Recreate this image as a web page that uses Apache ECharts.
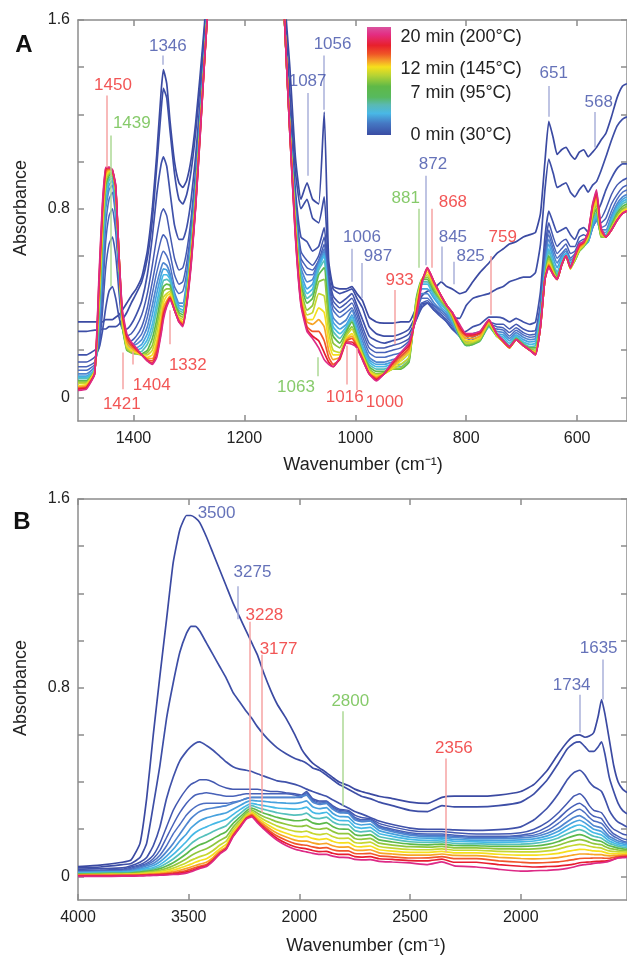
<!DOCTYPE html>
<html>
<head>
<meta charset="utf-8">
<script src="https://cdn.jsdelivr.net/npm/echarts@6/dist/echarts.min.js"></script>
<style>
html,body{margin:0;padding:0;background:#fff}
#chart{width:627px;height:957px}
</style>
</head>
<body>
<div id="chart"></div>
<script>
// spectra recorded while heating, minutes from start
const times = [0, 0.5, 1, 1.5, 2, 2.5, 3, 4, 5, 6, 7, 8.5, 10, 12, 14, 16, 18, 20];

// panel A, 1500-510 cm-1. one row per wavenumber, one column per spectrum
const wnA = [1500,1485,1470,1462,1456,1450,1444,1438,1432,1426,1420,1412,1404,1395,1385,1375,1366,1358,1350,1346,1340,1334,1326,1318,1311,1304,1296,1288,1280,1272,1264,1255,1240,
  1150,1128,1118,1108,1098,1087,1077,1066,1056,1048,1040,1028,1016,1006,997,987,975,962,948,933,918,903,890,880,870,858,845,835,825,812,800,788,775,759,745,733,722,710,697,685,675,666,658,651,643,636,628,620,612,604,596,588,580,572,565,557,548,538,528,518,510];
const absA = [
  [.32,.28,.18,.15,.13,.115,.10,.09,.085,.08,.07,.065,.06,.05,.045,.04,.035,.03],
  [.32,.28,.18,.15,.13,.115,.10,.09,.085,.08,.07,.065,.06,.055,.05,.045,.04,.035],
  [.32,.285,.20,.17,.15,.14,.13,.12,.12,.115,.11,.11,.11,.11,.105,.10,.10,.10],
  [.32,.285,.21,.21,.23,.26,.30,.32,.34,.36,.38,.40,.42,.44,.46,.48,.50,.52],
  [.32,.29,.28,.36,.42,.48,.55,.58,.61,.64,.67,.70,.72,.74,.76,.78,.80,.82],
  [.33,.29,.38,.55,.66,.73,.80,.83,.86,.88,.90,.92,.93,.94,.95,.96,.97,.975],
  [.33,.30,.45,.65,.77,.84,.88,.90,.92,.93,.94,.95,.955,.96,.965,.97,.975,.975],
  [.33,.30,.47,.68,.80,.87,.90,.92,.93,.94,.95,.955,.96,.96,.96,.96,.965,.965],
  [.34,.30,.42,.60,.70,.76,.79,.81,.83,.85,.86,.87,.88,.885,.89,.89,.895,.90],
  [.35,.31,.34,.44,.50,.53,.55,.56,.57,.58,.58,.59,.59,.59,.60,.60,.60,.60],
  [.37,.33,.29,.30,.30,.30,.30,.30,.30,.30,.30,.31,.32,.33,.34,.35,.36,.37],
  [.40,.36,.29,.26,.24,.23,.24,.23,.22,.21,.20,.205,.21,.22,.235,.25,.26,.27],
  [.43,.40,.31,.27,.24,.22,.22,.21,.20,.195,.19,.19,.195,.20,.21,.22,.23,.235],
  [.46,.44,.35,.30,.26,.24,.225,.21,.20,.19,.185,.185,.19,.19,.195,.20,.205,.21],
  [.51,.49,.41,.35,.30,.27,.245,.225,.21,.195,.185,.18,.18,.18,.18,.18,.18,.18],
  [.62,.59,.52,.44,.38,.34,.30,.27,.245,.225,.20,.19,.18,.17,.165,.16,.155,.155],
  [.80,.75,.68,.56,.49,.44,.39,.35,.31,.28,.25,.22,.20,.18,.165,.155,.145,.14],
  [1.03,.98,.86,.68,.59,.53,.48,.44,.40,.37,.33,.30,.27,.24,.22,.20,.18,.17],
  [1.30,1.22,.99,.78,.67,.60,.55,.52,.49,.46,.43,.40,.37,.34,.32,.30,.28,.27],
  [1.39,1.31,1.02,.80,.69,.62,.57,.545,.52,.495,.47,.45,.425,.40,.38,.36,.345,.33],
  [1.33,1.27,.98,.77,.67,.60,.56,.54,.52,.50,.48,.46,.44,.43,.41,.40,.39,.385],
  [1.17,1.13,.87,.69,.61,.56,.525,.51,.50,.49,.475,.46,.45,.44,.43,.425,.42,.415],
  [1.00,.95,.73,.59,.52,.47,.445,.43,.42,.41,.40,.39,.38,.375,.37,.37,.37,.37],
  [.91,.84,.67,.54,.48,.44,.40,.39,.38,.37,.36,.35,.34,.335,.33,.325,.32,.32],
  [.89,.82,.67,.55,.49,.45,.40,.385,.37,.36,.35,.34,.33,.32,.315,.31,.305,.30],
  [.92,.86,.72,.62,.57,.53,.49,.475,.46,.45,.44,.43,.42,.41,.405,.40,.395,.39],
  [1.01,.96,.84,.76,.72,.69,.66,.65,.64,.63,.62,.61,.60,.59,.58,.575,.57,.56],
  [1.16,1.12,1.02,.96,.93,.91,.89,.88,.87,.86,.85,.84,.83,.82,.815,.81,.805,.80],
  [1.36,1.32,1.25,1.22,1.20,1.18,1.17,1.16,1.15,1.14,1.14,1.13,1.12,1.12,1.11,1.11,1.10,1.10],
  [1.58,1.55,1.50,1.48,1.47,1.46,1.45,1.45,1.44,1.44,1.43,1.43,1.43,1.42,1.42,1.42,1.42,1.42],
  [1.85,1.82,1.80,1.78,1.77,1.76,1.75,1.75,1.75,1.74,1.74,1.74,1.73,1.73,1.73,1.72,1.72,1.72],
  [2.2,2.2,2.2,2.2,2.2,2.2,2.2,2.2,2.2,2.2,2.2,2.2,2.2,2.2,2.2,2.2,2.2,2.2],
  [3,3,3,3,3,3,3,3,3,3,3,3,3,3,3,3,3,3],
  [3,3,3,3,3,3,3,3,3,3,3,3,3,3,3,3,3,3],
  [1.72,1.68,1.65,1.64,1.63,1.62,1.62,1.62,1.62,1.62,1.62,1.62,1.62,1.62,1.62,1.62,1.62,1.62],
  [1.40,1.30,1.22,1.18,1.16,1.15,1.15,1.15,1.14,1.14,1.14,1.14,1.13,1.13,1.13,1.12,1.12,1.12],
  [1.02,.96,.88,.84,.82,.80,.79,.78,.77,.76,.75,.74,.73,.72,.71,.70,.69,.68],
  [.84,.80,.68,.62,.59,.57,.55,.53,.51,.50,.48,.46,.44,.43,.42,.41,.40,.39],
  [.91,.84,.66,.58,.55,.52,.49,.46,.44,.42,.40,.37,.35,.33,.32,.30,.29,.28],
  [.84,.76,.62,.56,.54,.52,.50,.48,.46,.44,.42,.39,.36,.33,.31,.28,.26,.25],
  [.82,.74,.64,.60,.58,.58,.57,.56,.55,.54,.52,.49,.44,.38,.33,.28,.24,.21],
  [1.21,.85,.72,.68,.65,.63,.62,.61,.60,.58,.55,.50,.43,.36,.30,.24,.19,.16],
  [.58,.55,.52,.50,.48,.46,.44,.42,.40,.38,.35,.32,.28,.24,.20,.17,.15,.14],
  [.47,.46,.43,.41,.39,.37,.34,.32,.30,.28,.26,.23,.20,.18,.16,.14,.13,.13],
  [.46,.44,.40,.38,.36,.34,.31,.29,.27,.25,.23,.21,.19,.18,.17,.16,.165,.17],
  [.46,.45,.42,.40,.38,.36,.33,.31,.30,.29,.28,.27,.26,.25,.245,.24,.235,.23],
  [.47,.46,.44,.42,.40,.38,.37,.35,.34,.33,.32,.30,.29,.27,.26,.25,.235,.225],
  [.44,.42,.39,.37,.35,.33,.31,.29,.28,.27,.26,.25,.24,.23,.22,.215,.21,.21],
  [.41,.38,.33,.30,.28,.26,.24,.22,.21,.20,.19,.185,.18,.175,.17,.165,.16,.16],
  [.34,.30,.26,.23,.21,.19,.17,.16,.15,.14,.13,.12,.115,.11,.105,.10,.10,.10],
  [.32,.27,.24,.21,.19,.17,.15,.14,.13,.12,.11,.10,.095,.09,.085,.08,.075,.07],
  [.315,.26,.23,.21,.19,.17,.15,.14,.13,.12,.11,.105,.10,.10,.10,.10,.10,.10],
  [.315,.26,.24,.22,.20,.18,.16,.15,.14,.13,.12,.12,.12,.125,.13,.14,.145,.15],
  [.32,.27,.25,.23,.21,.19,.17,.155,.14,.13,.12,.125,.14,.155,.165,.175,.185,.19],
  [.32,.29,.27,.25,.24,.23,.21,.19,.17,.16,.15,.16,.17,.19,.20,.21,.22,.23],
  [.38,.35,.33,.33,.34,.35,.37,.39,.40,.41,.42,.41,.40,.38,.37,.36,.35,.34],
  [.43,.40,.38,.39,.40,.42,.44,.46,.48,.49,.50,.50,.50,.50,.49,.49,.49,.48],
  [.45,.40,.40,.40,.41,.42,.44,.46,.48,.49,.50,.51,.52,.53,.54,.545,.55,.55],
  [.46,.39,.37,.37,.38,.39,.40,.42,.43,.44,.45,.46,.47,.48,.48,.49,.49,.49],
  [.49,.37,.35,.34,.35,.36,.37,.38,.39,.40,.41,.41,.42,.42,.43,.43,.43,.43],
  [.47,.35,.32,.32,.33,.34,.35,.36,.37,.37,.38,.38,.39,.39,.39,.39,.39,.39],
  [.46,.34,.29,.29,.30,.31,.31,.32,.33,.33,.34,.34,.35,.35,.35,.36,.36,.36],
  [.44,.335,.27,.26,.26,.26,.26,.26,.26,.26,.26,.27,.27,.28,.28,.29,.30,.31],
  [.45,.39,.28,.25,.24,.235,.23,.225,.22,.22,.22,.225,.23,.24,.25,.26,.265,.27],
  [.49,.42,.30,.27,.255,.245,.24,.235,.23,.225,.225,.23,.235,.24,.25,.26,.265,.27],
  [.53,.43,.31,.28,.27,.26,.255,.25,.245,.24,.24,.245,.25,.255,.26,.27,.275,.28],
  [.57,.44,.34,.32,.31,.30,.30,.30,.30,.30,.305,.31,.315,.32,.32,.325,.33,.33],
  [.61,.46,.34,.31,.30,.29,.28,.27,.265,.26,.26,.26,.26,.265,.27,.27,.27,.27],
  [.63,.47,.335,.31,.295,.285,.275,.265,.255,.245,.24,.235,.235,.235,.235,.235,.24,.24],
  [.65,.49,.32,.29,.275,.26,.25,.24,.23,.22,.215,.21,.21,.21,.21,.21,.215,.215],
  [.66,.50,.335,.31,.295,.285,.275,.265,.26,.255,.25,.245,.245,.245,.245,.245,.245,.245],
  [.68,.51,.32,.29,.275,.265,.255,.245,.235,.23,.225,.22,.22,.22,.22,.22,.22,.22],
  [.69,.51,.31,.28,.265,.255,.245,.235,.225,.215,.21,.205,.20,.20,.20,.20,.20,.20],
  [.70,.53,.32,.285,.27,.26,.25,.24,.23,.22,.21,.20,.195,.19,.185,.185,.18,.18],
  [.78,.65,.45,.40,.38,.37,.36,.35,.34,.33,.32,.31,.30,.30,.30,.30,.30,.30],
  [1.0,.88,.68,.63,.60,.58,.56,.54,.53,.52,.51,.50,.50,.50,.50,.50,.50,.50],
  [1.17,1.01,.79,.74,.71,.69,.67,.65,.63,.62,.60,.59,.58,.57,.565,.56,.555,.55],
  [1.10,.95,.74,.68,.65,.63,.61,.59,.57,.56,.55,.54,.53,.53,.525,.52,.52,.52],
  [1.03,.89,.70,.64,.61,.59,.57,.55,.53,.52,.51,.50,.50,.50,.50,.50,.50,.50],
  [1.05,.90,.71,.66,.63,.61,.60,.59,.58,.57,.56,.56,.56,.56,.56,.56,.56,.56],
  [1.06,.91,.72,.67,.65,.63,.62,.61,.61,.60,.60,.60,.60,.60,.60,.60,.60,.60],
  [1.03,.87,.69,.64,.61,.59,.58,.57,.56,.555,.55,.545,.545,.545,.55,.55,.55,.55],
  [1.01,.85,.67,.64,.62,.61,.60,.59,.585,.58,.58,.58,.585,.59,.59,.60,.60,.60],
  [1.04,.88,.71,.68,.66,.65,.64,.63,.625,.62,.62,.62,.625,.63,.635,.64,.645,.65],
  [1.05,.90,.72,.69,.67,.66,.65,.645,.64,.64,.64,.64,.645,.65,.65,.655,.66,.66],
  [1.02,.87,.70,.68,.67,.66,.66,.66,.66,.665,.67,.675,.68,.685,.69,.695,.70,.70],
  [1.04,.90,.75,.73,.72,.72,.72,.73,.74,.75,.76,.77,.78,.79,.80,.81,.815,.82],
  [1.06,.915,.78,.76,.75,.75,.75,.76,.77,.78,.80,.82,.83,.84,.85,.86,.87,.88],
  [1.09,.96,.82,.76,.74,.72,.71,.70,.69,.69,.68,.68,.69,.70,.70,.71,.72,.72],
  [1.12,1.02,.88,.80,.76,.73,.71,.70,.69,.685,.68,.68,.68,.68,.68,.68,.68,.68],
  [1.19,1.09,.93,.86,.82,.79,.77,.76,.75,.74,.73,.72,.72,.71,.71,.71,.71,.71],
  [1.27,1.15,.97,.90,.86,.84,.82,.81,.80,.79,.78,.77,.76,.76,.75,.75,.75,.75],
  [1.32,1.18,.99,.92,.89,.87,.85,.84,.83,.82,.81,.80,.79,.79,.78,.78,.78,.78],
  [1.33,1.19,.99,.93,.90,.88,.86,.85,.84,.83,.82,.81,.80,.80,.79,.79,.79,.79]
];

// panel B, 4000-1520 cm-1
const wnB = [4000,3900,3800,3760,3720,3690,3660,3630,3600,3570,3540,3510,3490,3470,3450,3420,3390,3360,3330,3300,3270,3240,3215,3190,3160,3130,3100,3060,3020,2990,2968,2940,2910,2878,2850,2820,2779,2750,2720,2680,2640,2580,2500,2420,2356,2300,2200,2100,2000,1940,1880,1830,1790,1760,1734,1710,1690,1670,1650,1635,1620,1600,1580,1560,1540,1520];
const absB = [
  [.042,.036,.03,.025,.022,.02,.018,.016,.014,.012,.01,.008,.007,.006,.005,.004,.002,0],
  [.048,.04,.033,.027,.024,.022,.02,.018,.016,.014,.012,.01,.008,.007,.006,.004,.002,0],
  [.06,.05,.036,.03,.026,.024,.022,.02,.018,.015,.013,.011,.009,.008,.006,.005,.003,.001],
  [.07,.055,.045,.04,.035,.03,.025,.022,.02,.017,.014,.012,.01,.009,.007,.005,.003,.001],
  [.14,.08,.06,.05,.045,.04,.035,.03,.026,.022,.018,.015,.012,.01,.008,.006,.004,.002],
  [.33,.14,.08,.065,.055,.05,.045,.038,.032,.027,.022,.018,.015,.012,.01,.007,.005,.003],
  [.60,.30,.13,.09,.075,.065,.055,.046,.038,.032,.026,.021,.017,.014,.011,.008,.006,.004],
  [.85,.47,.21,.14,.11,.09,.075,.062,.05,.041,.033,.026,.021,.017,.013,.01,.007,.005],
  [1.09,.67,.33,.21,.165,.13,.105,.086,.07,.056,.044,.034,.027,.021,.016,.012,.009,.006],
  [1.33,.82,.42,.28,.22,.18,.14,.115,.093,.074,.058,.045,.035,.027,.02,.015,.011,.008],
  [1.47,.95,.49,.33,.27,.22,.18,.15,.12,.096,.076,.059,.046,.035,.026,.019,.014,.01],
  [1.53,1.03,.53,.37,.31,.26,.22,.18,.148,.12,.096,.075,.058,.045,.034,.025,.019,.014],
  [1.53,1.06,.55,.39,.33,.28,.245,.205,.17,.138,.112,.088,.068,.052,.04,.031,.024,.02],
  [1.52,1.06,.565,.40,.345,.295,.262,.222,.186,.152,.124,.098,.076,.06,.046,.037,.03,.027],
  [1.50,1.04,.57,.41,.35,.305,.275,.236,.198,.164,.134,.107,.084,.067,.052,.043,.037,.034],
  [1.44,.99,.555,.41,.355,.31,.285,.248,.21,.176,.145,.117,.093,.075,.06,.05,.045,.042],
  [1.37,.94,.535,.40,.35,.31,.29,.256,.222,.19,.16,.133,.11,.093,.08,.072,.068,.065],
  [1.30,.89,.51,.385,.345,.31,.295,.263,.232,.203,.176,.152,.132,.117,.107,.10,.097,.095],
  [1.23,.84,.485,.375,.34,.31,.30,.27,.242,.215,.19,.168,.15,.136,.126,.12,.117,.115],
  [1.16,.78,.465,.37,.34,.315,.31,.285,.262,.242,.224,.208,.195,.185,.178,.173,.17,.168],
  [1.10,.74,.455,.37,.345,.32,.32,.30,.282,.265,.25,.238,.228,.22,.214,.21,.207,.205],
  [1.04,.70,.45,.37,.35,.33,.33,.315,.30,.288,.277,.268,.26,.254,.25,.247,.245,.243],
  [.99,.67,.445,.37,.35,.335,.335,.322,.31,.30,.29,.282,.275,.269,.264,.26,.256,.252],
  [.94,.635,.435,.37,.35,.335,.335,.32,.305,.292,.28,.268,.258,.25,.243,.237,.232,.228],
  [.86,.60,.425,.365,.35,.335,.335,.318,.30,.284,.268,.253,.24,.229,.22,.212,.205,.20],
  [.79,.57,.415,.36,.35,.335,.335,.315,.295,.277,.259,.242,.226,.212,.20,.19,.182,.175],
  [.73,.545,.405,.36,.35,.335,.335,.313,.29,.27,.25,.231,.213,.197,.183,.171,.161,.153],
  [.67,.52,.40,.355,.35,.335,.335,.311,.287,.264,.242,.221,.201,.183,.167,.153,.141,.131],
  [.60,.50,.39,.35,.345,.335,.335,.31,.285,.26,.236,.213,.191,.171,.154,.139,.126,.115],
  [.54,.49,.38,.345,.34,.335,.34,.314,.288,.262,.237,.212,.189,.168,.15,.134,.12,.108],
  [.51,.48,.37,.36,.355,.35,.345,.32,.294,.268,.242,.216,.192,.17,.15,.132,.117,.104],
  [.48,.46,.36,.33,.325,.32,.315,.295,.272,.25,.227,.204,.182,.161,.142,.125,.11,.098],
  [.46,.45,.35,.32,.315,.31,.305,.287,.266,.245,.222,.20,.177,.156,.137,.12,.105,.093],
  [.44,.43,.34,.32,.318,.315,.31,.292,.272,.251,.228,.205,.182,.16,.14,.122,.106,.093],
  [.42,.41,.325,.30,.295,.29,.285,.268,.25,.232,.212,.191,.169,.149,.13,.113,.098,.086],
  [.40,.39,.31,.285,.28,.275,.27,.254,.237,.22,.201,.181,.161,.142,.124,.108,.093,.081],
  [.385,.37,.29,.28,.275,.27,.268,.252,.236,.219,.20,.181,.162,.143,.125,.108,.093,.08],
  [.37,.355,.275,.26,.25,.245,.24,.226,.211,.195,.178,.161,.144,.128,.112,.097,.084,.072],
  [.36,.34,.265,.25,.24,.235,.232,.218,.204,.189,.173,.157,.141,.125,.11,.096,.082,.07],
  [.35,.33,.25,.245,.24,.235,.235,.222,.208,.193,.177,.161,.145,.129,.113,.098,.084,.071],
  [.34,.315,.235,.225,.215,.21,.205,.194,.182,.169,.155,.141,.127,.113,.10,.087,.075,.064],
  [.33,.30,.22,.21,.20,.195,.19,.18,.17,.158,.146,.133,.12,.107,.095,.083,.072,.061],
  [.315,.28,.205,.195,.185,.18,.175,.166,.157,.147,.137,.126,.114,.102,.09,.078,.067,.057],
  [.31,.275,.20,.19,.18,.175,.17,.162,.153,.144,.134,.124,.113,.102,.09,.079,.066,.05],
  [.335,.30,.20,.19,.18,.175,.17,.163,.155,.146,.137,.127,.117,.106,.095,.084,.073,.062],
  [.34,.295,.197,.185,.175,.17,.165,.157,.149,.14,.131,.121,.111,.10,.089,.075,.06,.045],
  [.34,.295,.195,.18,.17,.165,.16,.153,.146,.138,.13,.121,.111,.10,.088,.075,.06,.04],
  [.345,.30,.198,.18,.17,.165,.16,.152,.144,.136,.127,.117,.106,.094,.081,.066,.05,.03],
  [.36,.315,.21,.185,.175,.17,.163,.155,.146,.137,.127,.116,.104,.09,.076,.06,.043,.022],
  [.39,.35,.24,.20,.185,.175,.168,.159,.15,.14,.129,.117,.104,.09,.074,.057,.04,.024],
  [.45,.41,.29,.23,.21,.195,.183,.172,.161,.149,.136,.122,.108,.093,.076,.059,.042,.026],
  [.52,.48,.35,.27,.245,.225,.205,.191,.177,.163,.148,.132,.116,.098,.08,.062,.044,.029],
  [.57,.54,.41,.31,.28,.255,.232,.215,.198,.181,.163,.145,.126,.106,.086,.067,.048,.034],
  [.595,.565,.44,.34,.30,.275,.25,.231,.212,.192,.172,.152,.132,.111,.091,.071,.052,.04],
  [.60,.57,.45,.35,.31,.285,.258,.238,.218,.198,.177,.156,.136,.115,.095,.076,.058,.047],
  [.59,.55,.43,.33,.295,.27,.245,.227,.209,.19,.171,.152,.133,.114,.095,.077,.06,.05],
  [.595,.53,.40,.30,.27,.25,.23,.213,.196,.179,.162,.145,.128,.111,.094,.077,.061,.052],
  [.61,.53,.38,.28,.255,.235,.215,.20,.185,.17,.155,.139,.124,.108,.093,.078,.063,.055],
  [.68,.55,.37,.275,.25,.23,.21,.195,.18,.166,.151,.136,.122,.107,.092,.078,.064,.057],
  [.75,.57,.36,.27,.245,.225,.205,.19,.176,.162,.148,.134,.12,.106,.092,.078,.065,.058],
  [.69,.52,.33,.25,.225,.21,.19,.177,.165,.152,.14,.127,.114,.102,.089,.077,.065,.06],
  [.58,.42,.28,.22,.20,.185,.17,.16,.15,.14,.13,.119,.108,.097,.087,.077,.068,.065],
  [.47,.36,.25,.20,.18,.17,.16,.151,.142,.134,.125,.116,.106,.097,.089,.081,.073,.072],
  [.40,.31,.23,.19,.17,.16,.15,.142,.135,.128,.12,.112,.104,.097,.09,.084,.079,.078],
  [.37,.28,.22,.18,.16,.15,.145,.138,.131,.124,.117,.11,.104,.097,.091,.086,.082,.08],
  [.355,.265,.21,.175,.155,.145,.14,.134,.128,.122,.115,.109,.103,.097,.092,.087,.083,.081]
];

// tick positions / labels (B labels as printed in the figure)
const yTicks = [0, 0.2, 0.4, 0.6, 0.8, 1.0, 1.2, 1.4, 1.6];
const yLabelVals = [0, 0.8, 1.6];
const xTicksA = [1400, 1200, 1000, 800, 600];
const xLabelsA = ['1400', '1200', '1000', '800', '600'];
const xTicksB = [4000, 3500, 3000, 2500, 2000];
const xLabelsB = ['4000', '3500', '2000', '2500', '2000'];

// peak annotations: [text, label wn, label abs, colour]
const peakLabelsA = [
  ['1450', 1437, 1.322, 'r'], ['1439', 1403, 1.161, 'g'], ['1346', 1338, 1.487, 'b'],
  ['1421', 1421, -0.03, 'r'], ['1404', 1367, 0.051, 'r'], ['1332', 1302, 0.136, 'r'],
  ['1087', 1086, 1.339, 'b'], ['1056', 1041, 1.496, 'b'], ['1063', 1107, 0.042, 'g'],
  ['1016', 1019, 0.0, 'r'], ['1000', 947, -0.02, 'r'], ['1006', 988, 0.678, 'b'],
  ['987', 959, 0.60, 'b'], ['933', 920, 0.496, 'r'], ['881', 909, 0.843, 'g'],
  ['872', 860, 0.987, 'b'], ['868', 824, 0.826, 'r'], ['845', 824, 0.678, 'b'],
  ['825', 792, 0.597, 'b'], ['759', 734, 0.678, 'r'], ['651', 642, 1.373, 'b'],
  ['568', 561, 1.25, 'b']
];
// leader lines: [wn, abs from, abs to, colour]
const leadersA = [
  [1448, 1.28, 0.975, 'r'], [1441, 1.11, 0.47, 'g'], [1347, 1.45, 1.41, 'b'],
  [1419, 0.19, 0.035, 'r'], [1401, 0.195, 0.14, 'r'], [1334, 0.37, 0.225, 'r'],
  [1086, 1.29, 0.94, 'b'], [1057, 1.45, 1.22, 'b'], [1068, 0.17, 0.09, 'g'],
  [1015, 0.22, 0.055, 'r'], [997, 0.21, 0.03, 'r'], [1006, 0.63, 0.49, 'b'],
  [988, 0.57, 0.42, 'b'], [929, 0.455, 0.225, 'r'], [886, 0.80, 0.55, 'g'],
  [873, 0.94, 0.56, 'b'], [862, 0.80, 0.55, 'r'], [844, 0.64, 0.49, 'b'],
  [822, 0.575, 0.48, 'b'], [756, 0.60, 0.35, 'r'], [651, 1.32, 1.19, 'b'],
  [568, 1.21, 1.06, 'b']
];
const peakLabelsB = [
  ['3500', 3374, 1.54, 'b'], ['3275', 3212, 1.29, 'b'], ['3228', 3158, 1.105, 'r'],
  ['3177', 3094, 0.962, 'r'], ['2800', 2770, 0.743, 'g'], ['2356', 2302, 0.544, 'r'],
  ['1734', 1770, 0.81, 'b'], ['1635', 1648, 0.966, 'b']
];
const leadersB = [
  [3280, 1.23, 1.09, 'b'], [3225, 1.08, 0.27, 'r'], [3171, 0.94, 0.27, 'r'],
  [2802, 0.70, 0.30, 'g'], [2338, 0.50, 0.105, 'r'], [1734, 0.77, 0.61, 'b'],
  [1630, 0.92, 0.75, 'b']
];

const FONT = '"Liberation Sans", Arial, Helvetica, sans-serif';
const palette = ['#3b4aa2','#3d4ea6','#4052aa','#4358b0','#4761b8','#4c6ec2','#4f86d0','#47a2de','#45b9e6','#55c0bc','#5cb94b','#8fc63d','#c6d731','#f5df1e','#f7a427','#f1562a','#e71d30','#dd2a86'];
const TXT = { b: '#3f4fa8', r: '#ef2b2b', g: '#68bd45' };
const LEAD = { b: '#aab0da', r: '#f6a3a3', g: '#acd994' };
const AXIS = '#8c8c8c';

function xAxis(grid, min, max, ticks, labels, top) {
  return {
    type: 'value', gridIndex: grid, min: min, max: max, inverse: true,
    position: top ? 'top' : 'bottom',
    axisLine: { show: true, onZero: false, lineStyle: { color: AXIS, width: 1.5 } },
    axisTick: { show: true, inside: true, length: 6, customValues: ticks, lineStyle: { color: AXIS, width: 1.5 } },
    axisLabel: {
      show: !top, customValues: ticks, margin: 10, fontSize: 16, color: '#222', fontFamily: FONT,
      formatter: v => { const i = ticks.indexOf(v); return i >= 0 ? labels[i] : ''; }
    },
    splitLine: { show: false }
  };
}
function yAxis(grid, right) {
  return {
    type: 'value', gridIndex: grid, min: -0.1, max: 1.6,
    position: right ? 'right' : 'left',
    axisLine: { show: true, onZero: false, lineStyle: { color: AXIS, width: 1.5 } },
    axisTick: { show: true, inside: true, length: 6, customValues: yTicks, lineStyle: { color: AXIS, width: 1.5 } },
    axisLabel: { show: !right, customValues: yLabelVals, margin: 8, fontSize: 16, color: '#222', fontFamily: FONT },
    splitLine: { show: false }
  };
}

function spectra(wn, table, axis) {
  return times.map((t, k) => ({
    type: 'line', name: t + ' min', xAxisIndex: axis, yAxisIndex: axis,
    data: wn.map((w, i) => [w, table[i][k]]),
    symbol: 'none', smooth: 0.15, silent: true, z: 2,
    lineStyle: { color: palette[k], width: k < 3 ? 1.7 : (k < 6 ? 1.5 : 1.7) }
  }));
}
function annotations(labels, leaders, axis) {
  return {
    type: 'scatter', xAxisIndex: axis, yAxisIndex: axis, symbolSize: 1, silent: true, z: 10,
    itemStyle: { color: 'rgba(0,0,0,0)' },
    data: labels.map(([t, x, y, c]) => ({
      value: [x, y],
      label: { show: true, position: 'inside', formatter: t, color: TXT[c], fontSize: 17, fontFamily: FONT }
    })),
    markLine: {
      silent: true, symbol: ['none', 'none'], label: { show: false }, animation: false,
      data: leaders.map(([x, y1, y2, c]) => [
        { coord: [x, y1], lineStyle: { color: LEAD[c], width: 1.5, type: 'solid' } },
        { coord: [x, y2] }
      ])
    }
  };
}

const chart = echarts.init(document.getElementById('chart'));
chart.setOption({
  animation: false,
  backgroundColor: '#fff',
  grid: [
    { left: 78, top: 20, width: 550, height: 401 },
    { left: 78, top: 499, width: 550, height: 401 }
  ],
  xAxis: [
    xAxis(0, 510, 1500, xTicksA, xLabelsA, false),
    xAxis(0, 510, 1500, xTicksA, xLabelsA, true),
    xAxis(1, 1520, 4000, xTicksB, xLabelsB, false),
    xAxis(1, 1520, 4000, xTicksB, xLabelsB, true)
  ],
  yAxis: [yAxis(0, false), yAxis(0, true), yAxis(1, false), yAxis(1, true)],
  series: [
    ...spectra(wnA, absA, 0),
    ...spectra(wnB, absB, 2),
    annotations(peakLabelsA, leadersA, 0),
    annotations(peakLabelsB, leadersB, 2)
  ],
  graphic: [
    { type: 'text', x: 24, y: 45, style: { text: 'A', font: 'bold 24px ' + FONT, fill: '#111', align: 'center', verticalAlign: 'middle' } },
    { type: 'text', x: 22, y: 522, style: { text: 'B', font: 'bold 24px ' + FONT, fill: '#111', align: 'center', verticalAlign: 'middle' } },
    { type: 'text', x: 21, y: 208, rotation: Math.PI / 2, style: { text: 'Absorbance', font: '18px ' + FONT, fill: '#222', align: 'center', verticalAlign: 'middle' } },
    { type: 'text', x: 21, y: 688, rotation: Math.PI / 2, style: { text: 'Absorbance', font: '18px ' + FONT, fill: '#222', align: 'center', verticalAlign: 'middle' } },
    { type: 'text', x: 363, y: 465, style: { text: 'Wavenumber (cm\u207B\u00B9)', font: '18px ' + FONT, fill: '#222', align: 'center', verticalAlign: 'middle' } },
    { type: 'text', x: 366, y: 946, style: { text: 'Wavenumber (cm\u207B\u00B9)', font: '18px ' + FONT, fill: '#222', align: 'center', verticalAlign: 'middle' } },
    {
      type: 'rect', shape: { x: 367, y: 27, width: 24, height: 108 }, z: 20,
      style: {
        fill: new echarts.graphic.LinearGradient(0, 0, 0, 1, [
          { offset: 0, color: '#d9539f' }, { offset: 0.07, color: '#e42d82' },
          { offset: 0.17, color: '#e8202c' }, { offset: 0.25, color: '#ef5526' },
          { offset: 0.31, color: '#f59a2a' }, { offset: 0.37, color: '#f6e01c' },
          { offset: 0.45, color: '#b5d334' }, { offset: 0.55, color: '#5fb947' },
          { offset: 0.65, color: '#57b95e' }, { offset: 0.72, color: '#5ab9b2' },
          { offset: 0.80, color: '#49b8e6' }, { offset: 0.89, color: '#4579c4' },
          { offset: 1, color: '#3a4ca3' }
        ])
      }
    },
    { type: 'text', x: 461, y: 37, z: 20, style: { text: '20 min (200\u00B0C)', font: '18px ' + FONT, fill: '#222', align: 'center', verticalAlign: 'middle' } },
    { type: 'text', x: 461, y: 69, z: 20, style: { text: '12 min (145\u00B0C)', font: '18px ' + FONT, fill: '#222', align: 'center', verticalAlign: 'middle' } },
    { type: 'text', x: 461, y: 93, z: 20, style: { text: '7 min (95\u00B0C)', font: '18px ' + FONT, fill: '#222', align: 'center', verticalAlign: 'middle' } },
    { type: 'text', x: 461, y: 135, z: 20, style: { text: '0 min (30\u00B0C)', font: '18px ' + FONT, fill: '#222', align: 'center', verticalAlign: 'middle' } }
  ]
});
</script>
</body>
</html>
